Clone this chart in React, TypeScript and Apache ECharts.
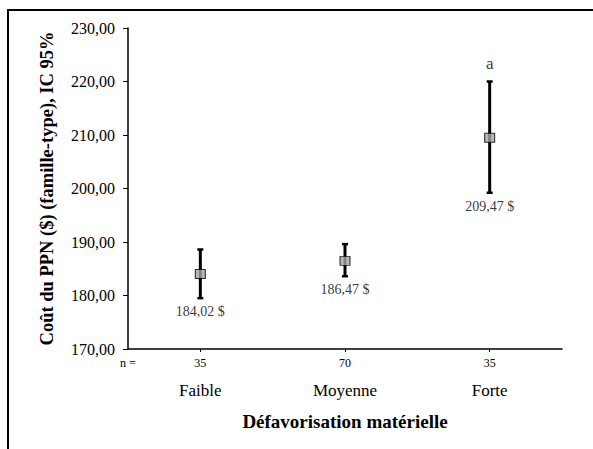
import React, { useEffect, useRef } from "react";
import * as echarts from "echarts";

const categories = ["Faible", "Moyenne", "Forte"];
const counts = ["35", "70", "35"];
const countPrefix = ["n =", ""];
const means = [184.02, 186.47, 209.47];
const lowers = [179.5, 183.6, 199.2];
const uppers = [188.6, 189.6, 220.0];
const valueLabels = ["184,02 $", "186,47 $", "209,47 $"];
const letters = ["", "", "a"];

const FONT = "Liberation Serif";

export default function App() {
  const ref = useRef<HTMLDivElement>(null);
  useEffect(() => {
    if (!ref.current) return;
    const chart = echarts.init(ref.current, null, { renderer: "svg" });
    const fmt = (v: number) => v.toFixed(2).replace(".", ",");
    chart.setOption({
      animation: false,
      backgroundColor: "#ffffff",
      color: ["#000000"],
      textStyle: { fontFamily: FONT, color: "#000" },
      grid: { left: 128, top: 28, right: 31, bottom: 100 },
      xAxis: [
        {
          type: "category",
          data: categories,
          boundaryGap: true,
          axisLine: { show: true, lineStyle: { color: "#000", width: 1.5 } },
          axisTick: { show: true, alignWithLabel: true, length: 3, lineStyle: { color: "#000" } },
          axisLabel: {
            interval: 0,
            margin: 33,
            fontFamily: FONT,
            fontSize: 17,
            color: "#000",
          },
          name: "Défavorisation matérielle",
          nameLocation: "middle",
          nameGap: 63,
          nameTextStyle: { fontFamily: FONT, fontSize: 19, fontWeight: "bold", color: "#000" },
        },
        {
          type: "category",
          data: counts,
          position: "bottom",
          boundaryGap: true,
          axisLine: { show: false },
          axisTick: { show: false },
          axisLabel: {
            interval: 0,
            margin: 8,
            fontFamily: FONT,
            fontSize: 12,
            color: "#000",
          },
        },
        {
          type: "category",
          data: countPrefix,
          position: "bottom",
          boundaryGap: false,
          axisLine: { show: false },
          axisTick: { show: false },
          axisLabel: {
            interval: 0,
            margin: 8,
            fontFamily: FONT,
            fontSize: 12,
            color: "#000",
          },
        },
      ],
      yAxis: {
        type: "value",
        min: 170,
        max: 230,
        interval: 10,
        splitLine: { show: false },
        axisLine: { show: true, lineStyle: { color: "#000", width: 1.5 } },
        axisTick: { show: true, length: 5, lineStyle: { color: "#000" } },
        axisLabel: {
          formatter: (v: number) => fmt(v),
          fontFamily: FONT,
          fontSize: 16,
          color: "#000",
          margin: 13,
        },
        name: "Coût du PPN ($) (famille-type), IC 95%",
        nameLocation: "middle",
        nameGap: 72,
        nameTextStyle: { fontFamily: FONT, fontSize: 18.5, fontWeight: "bold", color: "#000" },
      },
      graphic: [
        {
          type: "rect",
          shape: { x: 8, y: 10, width: 700, height: 600 },
          style: { fill: "none", stroke: "#000", lineWidth: 2 },
          silent: true,
        },
      ],
      series: [
        {
          type: "custom",
          data: categories.map((_, i) => [i, lowers[i], uppers[i]]),
          renderItem: (params: any, api: any) => {
            const i = api.value(0);
            const lo = api.coord([i, api.value(1)]);
            const hi = api.coord([i, api.value(2)]);
            const cap = 3;
            return {
              type: "group",
              children: [
                { type: "line", shape: { x1: lo[0], y1: lo[1], x2: hi[0], y2: hi[1] }, style: { stroke: "#000", lineWidth: 3 } },
                { type: "line", shape: { x1: lo[0] - cap, y1: lo[1], x2: lo[0] + cap, y2: lo[1] }, style: { stroke: "#000", lineWidth: 2.5 } },
                { type: "line", shape: { x1: hi[0] - cap, y1: hi[1], x2: hi[0] + cap, y2: hi[1] }, style: { stroke: "#000", lineWidth: 2.5 } },
              ],
            };
          },
          z: 2,
        },
        {
          type: "scatter",
          data: categories.map((_, i) => [i, lowers[i]]),
          symbol: "circle",
          symbolSize: 1,
          itemStyle: { color: "rgba(0,0,0,0)" },
          silent: true,
          label: {
            show: true,
            position: "bottom",
            distance: 6,
            formatter: (p: any) => valueLabels[p.dataIndex],
            fontFamily: FONT,
            fontSize: 14,
            color: "#000000",
            textBorderWidth: 0,
            textBorderColor: "transparent",
          },
          z: 1,
        },
        {
          type: "scatter",
          data: categories.map((_, i) => [i, uppers[i]]),
          symbol: "circle",
          symbolSize: 1,
          itemStyle: { color: "rgba(0,0,0,0)" },
          silent: true,
          label: {
            show: true,
            position: "top",
            distance: 9,
            formatter: (p: any) => letters[p.dataIndex],
            fontFamily: FONT,
            fontSize: 17,
            color: "#000000",
            textBorderWidth: 0,
            textBorderColor: "transparent",
          },
          z: 1,
        },
        {
          type: "scatter",
          data: categories.map((_, i) => [i, means[i]]),
          symbol: "rect",
          symbolSize: [10, 9],
          itemStyle: { color: "#a6a6a6", borderColor: "#000", borderWidth: 1 },
          z: 3,
        },
      ],
    });
    return () => chart.dispose();
  }, []);
  return (
    <div
      ref={ref}
      style={{ position: "fixed", left: 0, top: 0, width: 593, height: 449 }}
    />
  );
}
